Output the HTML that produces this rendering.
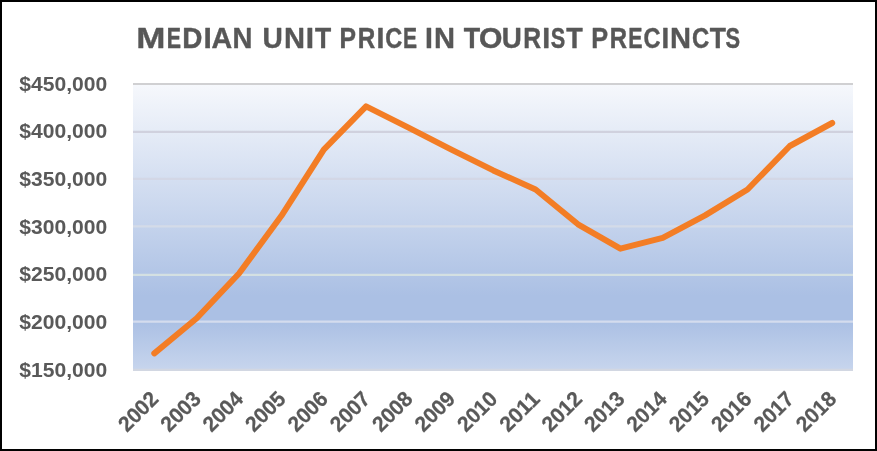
<!DOCTYPE html>
<html><head><meta charset="utf-8"><title>Median Unit Price in Tourist Precincts</title>
<style>
html,body{margin:0;padding:0;background:#fff;}
body{width:877px;height:451px;overflow:hidden;font-family:"Liberation Sans",sans-serif;}
svg{display:block;will-change:transform;opacity:0.9999;}
text{font-family:"Liberation Sans",sans-serif;font-weight:bold;fill:#595959;}
text.tt{fill:#575757;stroke:#575757;stroke-width:0.4px;vector-effect:non-scaling-stroke;stroke-linejoin:round;}
text.xl{stroke:#595959;stroke-width:0.25px;stroke-linejoin:round;}
</style></head><body>
<svg width="877" height="451" viewBox="0 0 877 451">
<defs>
<linearGradient id="pg" x1="0" y1="0" x2="0" y2="1">
<stop offset="0" stop-color="#F6F8FC"/>
<stop offset="0.74" stop-color="#ABC0E4"/>
<stop offset="0.83" stop-color="#ABC0E4"/>
<stop offset="1" stop-color="#C7D5ED"/>
</linearGradient>
</defs>
<rect x="0" y="0" width="877" height="451" fill="#fff"/>
<rect x="1" y="1" width="875" height="449" fill="none" stroke="#000" stroke-width="2"/>
<rect x="133.0" y="84.0" width="720.0" height="286.0" fill="url(#pg)"/>

<line x1="133.0" y1="84.00" x2="853.0" y2="84.00" stroke="#D0D0D2" stroke-width="2.2"/>
<line x1="133.0" y1="131.90" x2="853.0" y2="131.90" stroke="#D0D1DE" stroke-width="2.2"/>
<line x1="133.0" y1="178.80" x2="853.0" y2="178.80" stroke="#D3D7E6" stroke-width="2.2"/>
<line x1="133.0" y1="226.40" x2="853.0" y2="226.40" stroke="#D4DBE8" stroke-width="2.2"/>
<line x1="133.0" y1="274.80" x2="853.0" y2="274.80" stroke="#D4E0E2" stroke-width="2.2"/>
<line x1="133.0" y1="321.70" x2="853.0" y2="321.70" stroke="#D4DCEE" stroke-width="2.2"/>
<line x1="133.0" y1="369.80" x2="853.0" y2="369.80" stroke="#D2D7E2" stroke-width="2.2"/>
<polyline points="154.3,353.4 196.7,318.2 239.0,273.5 281.4,215.8 323.8,149.6 366.1,106.4 408.5,127.6 450.9,149.3 493.3,170.4 535.6,189.5 578.0,224.3 620.4,248.7 662.7,237.9 705.1,215.4 747.5,189.5 789.8,146.0 832.2,123.0" fill="none" stroke="#F37D25" stroke-width="6" stroke-linecap="round" stroke-linejoin="round"/>
<text transform="translate(136.26,47.6) scale(1.1918,1)" x="0" y="0" font-size="29.4" class="tt">M</text>
<text transform="translate(166.77,47.6) scale(0.7275,1)" x="0" y="0" font-size="29.4" class="tt">E</text>
<text transform="translate(182.33,47.6) scale(0.9484,1)" x="0" y="0" font-size="29.4" class="tt">D</text>
<text transform="translate(203.40,47.6) scale(1.0154,1)" x="0" y="0" font-size="29.4" class="tt">I</text>
<text transform="translate(211.59,47.6) scale(0.9734,1)" x="0" y="0" font-size="29.4" class="tt">A</text>
<text transform="translate(232.56,47.6) scale(0.9373,1)" x="0" y="0" font-size="29.4" class="tt">N</text>
<text transform="translate(262.61,47.6) scale(0.9563,1)" x="0" y="0" font-size="29.4" class="tt">U</text>
<text transform="translate(284.05,47.6) scale(0.9894,1)" x="0" y="0" font-size="29.4" class="tt">N</text>
<text transform="translate(305.80,47.6) scale(1.0154,1)" x="0" y="0" font-size="29.4" class="tt">I</text>
<text transform="translate(315.00,47.6) scale(0.9011,1)" x="0" y="0" font-size="29.4" class="tt">T</text>
<text transform="translate(339.55,47.6) scale(0.8414,1)" x="0" y="0" font-size="29.4" class="tt">P</text>
<text transform="translate(357.78,47.6) scale(0.8252,1)" x="0" y="0" font-size="29.4" class="tt">R</text>
<text transform="translate(376.60,47.6) scale(0.9682,1)" x="0" y="0" font-size="29.4" class="tt">I</text>
<text transform="translate(385.33,47.6) scale(0.8012,1)" x="0" y="0" font-size="29.4" class="tt">C</text>
<text transform="translate(403.09,47.6) scale(0.7154,1)" x="0" y="0" font-size="29.4" class="tt">E</text>
<text transform="translate(425.10,47.6) scale(0.9682,1)" x="0" y="0" font-size="29.4" class="tt">I</text>
<text transform="translate(433.95,47.6) scale(0.9894,1)" x="0" y="0" font-size="29.4" class="tt">N</text>
<text transform="translate(463.80,47.6) scale(0.9126,1)" x="0" y="0" font-size="29.4" class="tt">T</text>
<text transform="translate(479.07,47.6) scale(1.0231,1)" x="0" y="0" font-size="29.4" class="tt">O</text>
<text transform="translate(501.83,47.6) scale(0.9450,1)" x="0" y="0" font-size="29.4" class="tt">U</text>
<text transform="translate(523.15,47.6) scale(0.8413,1)" x="0" y="0" font-size="29.4" class="tt">R</text>
<text transform="translate(542.30,47.6) scale(0.9682,1)" x="0" y="0" font-size="29.4" class="tt">I</text>
<text transform="translate(550.87,47.6) scale(0.7380,1)" x="0" y="0" font-size="29.4" class="tt">S</text>
<text transform="translate(566.20,47.6) scale(0.9184,1)" x="0" y="0" font-size="29.4" class="tt">T</text>
<text transform="translate(591.31,47.6) scale(0.8595,1)" x="0" y="0" font-size="29.4" class="tt">P</text>
<text transform="translate(609.70,47.6) scale(0.8145,1)" x="0" y="0" font-size="29.4" class="tt">R</text>
<text transform="translate(628.27,47.6) scale(0.7275,1)" x="0" y="0" font-size="29.4" class="tt">E</text>
<text transform="translate(643.53,47.6) scale(0.8012,1)" x="0" y="0" font-size="29.4" class="tt">C</text>
<text transform="translate(661.44,47.6) scale(0.9445,1)" x="0" y="0" font-size="29.4" class="tt">I</text>
<text transform="translate(669.95,47.6) scale(0.9894,1)" x="0" y="0" font-size="29.4" class="tt">N</text>
<text transform="translate(692.02,47.6) scale(0.8116,1)" x="0" y="0" font-size="29.4" class="tt">C</text>
<text transform="translate(709.70,47.6) scale(0.9011,1)" x="0" y="0" font-size="29.4" class="tt">T</text>
<text transform="translate(725.57,47.6) scale(0.7437,1)" x="0" y="0" font-size="29.4" class="tt">S</text>
<text x="19.3" y="90.7" font-size="21" textLength="88" lengthAdjust="spacingAndGlyphs">$450,000</text>
<text x="19.3" y="138.3" font-size="21" textLength="88" lengthAdjust="spacingAndGlyphs">$400,000</text>
<text x="19.3" y="186.0" font-size="21" textLength="88" lengthAdjust="spacingAndGlyphs">$350,000</text>
<text x="19.3" y="233.6" font-size="21" textLength="88" lengthAdjust="spacingAndGlyphs">$300,000</text>
<text x="19.3" y="281.3" font-size="21" textLength="88" lengthAdjust="spacingAndGlyphs">$250,000</text>
<text x="19.3" y="328.9" font-size="21" textLength="88" lengthAdjust="spacingAndGlyphs">$200,000</text>
<text x="19.3" y="376.6" font-size="21" textLength="88" lengthAdjust="spacingAndGlyphs">$150,000</text>
<text class="xl" transform="translate(159.8,400.2) rotate(-45)" x="-46.5" y="0" font-size="21.5" textLength="46.5" lengthAdjust="spacingAndGlyphs">2002</text>
<text class="xl" transform="translate(202.2,400.2) rotate(-45)" x="-46.5" y="0" font-size="21.5" textLength="46.5" lengthAdjust="spacingAndGlyphs">2003</text>
<text class="xl" transform="translate(244.5,400.2) rotate(-45)" x="-46.5" y="0" font-size="21.5" textLength="46.5" lengthAdjust="spacingAndGlyphs">2004</text>
<text class="xl" transform="translate(286.9,400.2) rotate(-45)" x="-46.5" y="0" font-size="21.5" textLength="46.5" lengthAdjust="spacingAndGlyphs">2005</text>
<text class="xl" transform="translate(329.3,400.2) rotate(-45)" x="-46.5" y="0" font-size="21.5" textLength="46.5" lengthAdjust="spacingAndGlyphs">2006</text>
<text class="xl" transform="translate(371.6,400.2) rotate(-45)" x="-46.5" y="0" font-size="21.5" textLength="46.5" lengthAdjust="spacingAndGlyphs">2007</text>
<text class="xl" transform="translate(414.0,400.2) rotate(-45)" x="-46.5" y="0" font-size="21.5" textLength="46.5" lengthAdjust="spacingAndGlyphs">2008</text>
<text class="xl" transform="translate(456.4,400.2) rotate(-45)" x="-46.5" y="0" font-size="21.5" textLength="46.5" lengthAdjust="spacingAndGlyphs">2009</text>
<text class="xl" transform="translate(498.8,400.2) rotate(-45)" x="-46.5" y="0" font-size="21.5" textLength="46.5" lengthAdjust="spacingAndGlyphs">2010</text>
<text class="xl" transform="translate(541.1,400.2) rotate(-45)" x="-46.5" y="0" font-size="21.5" textLength="46.5" lengthAdjust="spacingAndGlyphs">2011</text>
<text class="xl" transform="translate(583.5,400.2) rotate(-45)" x="-46.5" y="0" font-size="21.5" textLength="46.5" lengthAdjust="spacingAndGlyphs">2012</text>
<text class="xl" transform="translate(625.9,400.2) rotate(-45)" x="-46.5" y="0" font-size="21.5" textLength="46.5" lengthAdjust="spacingAndGlyphs">2013</text>
<text class="xl" transform="translate(668.2,400.2) rotate(-45)" x="-46.5" y="0" font-size="21.5" textLength="46.5" lengthAdjust="spacingAndGlyphs">2014</text>
<text class="xl" transform="translate(710.6,400.2) rotate(-45)" x="-46.5" y="0" font-size="21.5" textLength="46.5" lengthAdjust="spacingAndGlyphs">2015</text>
<text class="xl" transform="translate(753.0,400.2) rotate(-45)" x="-46.5" y="0" font-size="21.5" textLength="46.5" lengthAdjust="spacingAndGlyphs">2016</text>
<text class="xl" transform="translate(795.3,400.2) rotate(-45)" x="-46.5" y="0" font-size="21.5" textLength="46.5" lengthAdjust="spacingAndGlyphs">2017</text>
<text class="xl" transform="translate(837.7,400.2) rotate(-45)" x="-46.5" y="0" font-size="21.5" textLength="46.5" lengthAdjust="spacingAndGlyphs">2018</text>
</svg></body></html>
